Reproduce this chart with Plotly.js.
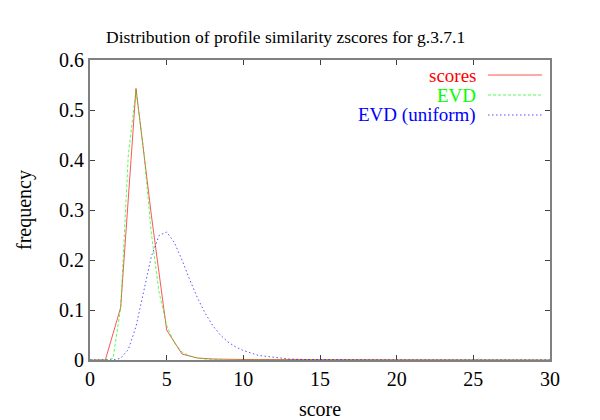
<!DOCTYPE html>
<html><head><meta charset="utf-8">
<script src="https://cdn.plot.ly/plotly-3.0.1.min.js"></script>
<style>body{margin:0;background:#fff}#chart{width:600px;height:420px}</style>
</head><body><div id="chart"></div>
<script>
// scores histogram (integer bins)
const scoreX = [0,1,2,3,4,5,6,7,8,9,10,11,12,13,14,15,16,17,18,19,20,21,22,23,24,25,26,27,28,29,30];
const scoreY = [0,0,0.105,0.543,0.29,0.06,0.012,0.004,0.002,0.001,0.001,0.001,0.001,0,0,0,0,0,0,0,0,0,0,0,0,0,0,0,0,0,0];
// EVD fit
const evdX = [0,0.5,1,1.5,2,2.5,3,3.5,4,4.5,5,5.5,6,6.5,7,7.5,8,9,10,15,20,25,30];
const evdY = [0,0,0,0.003,0.104,0.41,0.54,0.419,0.254,0.136,0.069,0.034,0.016,0.008,0.004,0.002,0.001,0,0,0,0,0,0];
// EVD (uniform)
const uniX = [0,0.5,1,1.5,2,2.5,3,3.5,4,4.5,5,5.5,6,6.5,7,7.5,8,8.5,9,9.5,10,11,12,13,14,15,16,18,20,25,30];
const uniY = [0,0,0,0.0002,0.0033,0.021,0.067,0.138,0.207,0.249,0.256,0.235,0.2,0.161,0.125,0.094,0.069,0.05,0.036,0.026,0.019,0.009,0.005,0.002,0.001,0.0006,0.0003,0,0,0,0];
const names = ["scores","EVD","EVD (uniform)"];
const colors = ["#ff0000","#00ff00","#0000ff"];
const dashes = ["solid","3px,2px","1.5px,2.5px"];

const font = "Liberation Serif, Times New Roman, serif";
const traces = [[scoreX,scoreY],[evdX,evdY],[uniX,uniY]].map((d,i)=>({
  x:d[0], y:d[1], type:"scatter", mode:"lines", name:names[i], opacity:0.75,
  line:{color:colors[i], width:0.9, dash:dashes[i]}
}));
const ann = [], shapes = [];
names.forEach((n,i)=>{
  const ypx = 75 + i*20;
  const yp = 1 - (ypx-60)/300;
  ann.push({text:n, xref:"paper", yref:"paper", x:(478-90)/460, y:yp, xanchor:"right", yanchor:"middle",
    showarrow:false, font:{family:font, size:19, color:colors[i]}});
  shapes.push({type:"line", xref:"paper", yref:"paper", x0:(488-90)/460, x1:(542-90)/460, y0:yp, y1:yp,
    opacity:0.75, line:{color:colors[i], width:0.9, dash:dashes[i]}});
});
ann.push({text:"Distribution of profile similarity zscores for g.3.7.1", xref:"paper", yref:"paper",
  x:(285-90)/460, y:1+(60-37)/300, xanchor:"center", yanchor:"middle", showarrow:false,
  font:{family:font, size:17.5, color:"#000"}});
const axisCommon = {showgrid:false, zeroline:false, showline:true, mirror:"ticks", linecolor:"#808080", linewidth:2,
  ticks:"inside", ticklen:5, tickcolor:"#404040", layer:"below traces", tickfont:{family:font, size:20, color:"#000"}};
const layout = {
  width:600, height:420, margin:{l:90, r:50, t:60, b:60},
  paper_bgcolor:"#fff", plot_bgcolor:"#fff", showlegend:false,
  xaxis:Object.assign({}, axisCommon, {range:[0,30], tickvals:[0,5,10,15,20,25,30], ticktext:["0","5","10","15","20","25","30"],
    title:{text:"score", font:{family:font, size:20, color:"#000"}, standoff:13}}),
  yaxis:Object.assign({}, axisCommon, {range:[0,0.6], tickvals:[0,0.1,0.2,0.3,0.4,0.5,0.6], ticktext:["0","0.1","0.2","0.3","0.4","0.5","0.6"],
    title:{text:"frequency", font:{family:font, size:20, color:"#000"}, standoff:22}}),
  annotations:ann, shapes:shapes
};
Plotly.newPlot("chart", traces, layout, {displayModeBar:false, staticPlot:true});
</script></body></html>
